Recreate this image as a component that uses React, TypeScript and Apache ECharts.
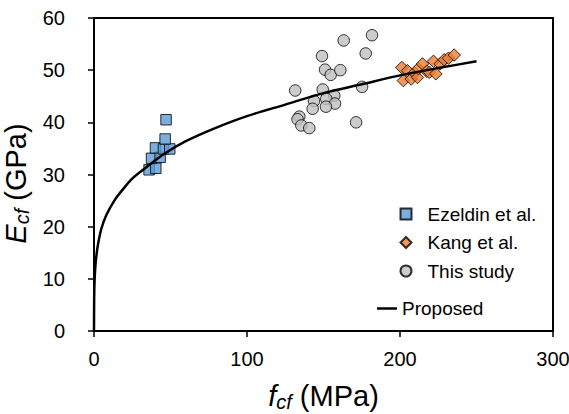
import React, { useEffect, useRef } from "react";
import * as echarts from "echarts";

// Ezeldin et al. [f_cf (MPa), E_cf (GPa)]
const ezeldin: number[][] = [
  [36, 30.9], [40.4, 31.2], [37.6, 33.1], [43.2, 33.3], [40.2, 35.1],
  [45.4, 34.9], [49.5, 34.9], [46.5, 36.8], [47.1, 40.5],
];
// Kang et al.
const kang: number[][] = [
  [201.2, 50.5], [204.9, 49.9], [202.2, 48.0], [207.3, 48.3], [209.4, 49.5],
  [211.4, 48.6], [212.0, 50.3], [214.7, 51.2], [217.5, 49.8], [219.2, 49.6],
  [223.4, 49.3], [221.9, 51.7], [226.2, 51.2], [228.9, 52.0], [231.7, 52.3],
  [235.4, 52.9],
];
// This study
const thisStudy: number[][] = [
  [163.2, 55.7], [181.7, 56.7], [149.0, 52.7], [177.6, 53.2], [151.0, 50.1],
  [154.7, 49.1], [161.0, 50.0], [131.5, 46.1], [149.5, 46.3], [175.2, 46.8],
  [157.0, 45.1], [151.8, 44.5], [143.8, 44.1], [157.5, 43.6], [151.6, 43.0],
  [142.9, 42.6], [134.2, 41.1], [133.0, 40.6], [135.5, 39.4], [140.7, 38.9],
  [171.3, 40.0],
];
// Proposed curve
const proposedF = [0, 0.1, 0.3, 0.8, 1.6, 2.6, 4.8, 8, 13.5, 19, 25, 33, 45, 60, 80, 100, 125, 150, 175, 200, 225, 250];
const proposedE = [0, 6, 9, 12, 14.5, 16.6, 19.6, 22.2, 25.1, 27.2, 29.2, 31.1, 33.8, 36.4, 39, 41.2, 43.4, 45.6, 47.3, 49, 50.4, 51.7];

const xTicks = [0, 100, 200, 300];
const yTicks = [0, 10, 20, 30, 40, 50, 60];

const FONT = "'Liberation Sans', Arial, sans-serif";

const titleRich = {
  i: { fontSize: 29, fontStyle: "italic", color: "#000", fontFamily: FONT, lineHeight: 32 },
  sub: { fontSize: 20, fontStyle: "italic", color: "#000", fontFamily: FONT, verticalAlign: "bottom", lineHeight: 22, padding: [9, 0, 0, 0] },
  n: { fontSize: 29, color: "#000", fontFamily: FONT, lineHeight: 32 },
};

export default function App() {
  const ref = useRef<HTMLDivElement>(null);
  useEffect(() => {
    if (!ref.current) return;
    const chart = echarts.init(ref.current, undefined, { renderer: "svg" });
    const border = { borderColor: "#000", borderWidth: 1 };
    chart.setOption({
      animation: false,
      textStyle: { fontFamily: FONT },
      grid: {
        left: 94, right: 16, top: 18, bottom: 83,
        containLabel: false,
        outerBoundsMode: "none",
        show: true, borderColor: "#000", borderWidth: 2,
      },
      xAxis: {
        type: "value",
        min: xTicks[0],
        max: xTicks[xTicks.length - 1],
        interval: 100,
        splitLine: { show: false },
        axisLine: { show: true, lineStyle: { color: "#000", width: 2 } },
        axisTick: { show: true, length: 6, lineStyle: { color: "#000", width: 1.5 } },
        axisLabel: { color: "#000", fontSize: 20, margin: 18, fontFamily: FONT },
        name: "{i|f}{sub|cf}{n| (MPa)}",
        nameLocation: "middle",
        nameGap: 49,
        nameTextStyle: { rich: titleRich },
      },
      yAxis: {
        type: "value",
        min: yTicks[0],
        max: yTicks[yTicks.length - 1],
        interval: 10,
        splitLine: { show: false },
        axisLine: { show: true, lineStyle: { color: "#000", width: 2 } },
        axisTick: { show: true, length: 6, lineStyle: { color: "#000", width: 1.5 } },
        axisLabel: { color: "#000", fontSize: 20, margin: 29, fontFamily: FONT },
        name: "{i|E}{sub|cf}{n| (GPa)}",
        nameLocation: "middle",
        nameGap: 59,
        nameRotate: 90,
        nameTextStyle: { rich: titleRich, padding: [0, 18, 0, 0] },
      },
      legend: [
        {
          data: ["Ezeldin et al.", "Kang et al.", "This study"],
          orient: "vertical",
          left: 399.5,
          top: 204.5,
          padding: 0,
          itemWidth: 11,
          itemHeight: 11,
          itemGap: 9.5,
          textStyle: { fontSize: 19, color: "#000", fontFamily: FONT, padding: [0, 0, 0, 11] },
        },
        {
          data: [{ name: "Proposed", icon: "rect" }],
          left: 377,
          top: 299,
          padding: 0,
          itemWidth: 20,
          itemHeight: 2.5,
          textStyle: { fontSize: 19, color: "#000", fontFamily: FONT },
        },
      ],
      series: [
        {
          name: "Ezeldin et al.",
          type: "scatter",
          symbol: "rect",
          symbolSize: 10.5,
          data: ezeldin,
          itemStyle: { ...border, color: "#5B9BD5" },
          z: 3,
        },
        {
          name: "Kang et al.",
          type: "scatter",
          symbol: "diamond",
          symbolSize: 12.5,
          data: kang,
          itemStyle: { ...border, color: "#ED7D31" },
          z: 3,
        },
        {
          name: "This study",
          type: "scatter",
          symbol: "circle",
          symbolSize: 11.5,
          data: thisStudy,
          itemStyle: { ...border, color: "#BFBFBF" },
          z: 3,
        },
        {
          name: "Proposed",
          type: "line",
          data: proposedF.map((f, i) => [f, proposedE[i]]),
          showSymbol: false,
          symbol: "none",
          smooth: 0.3,
          lineStyle: { color: "#000", width: 2.5 },
          itemStyle: { color: "#000" },
          z: 4,
        },
      ],
    });
    return () => chart.dispose();
  }, []);
  return (
    <div
      ref={ref}
      style={{ position: "absolute", left: 0, top: 0, width: 569, height: 414 }}
    />
  );
}
